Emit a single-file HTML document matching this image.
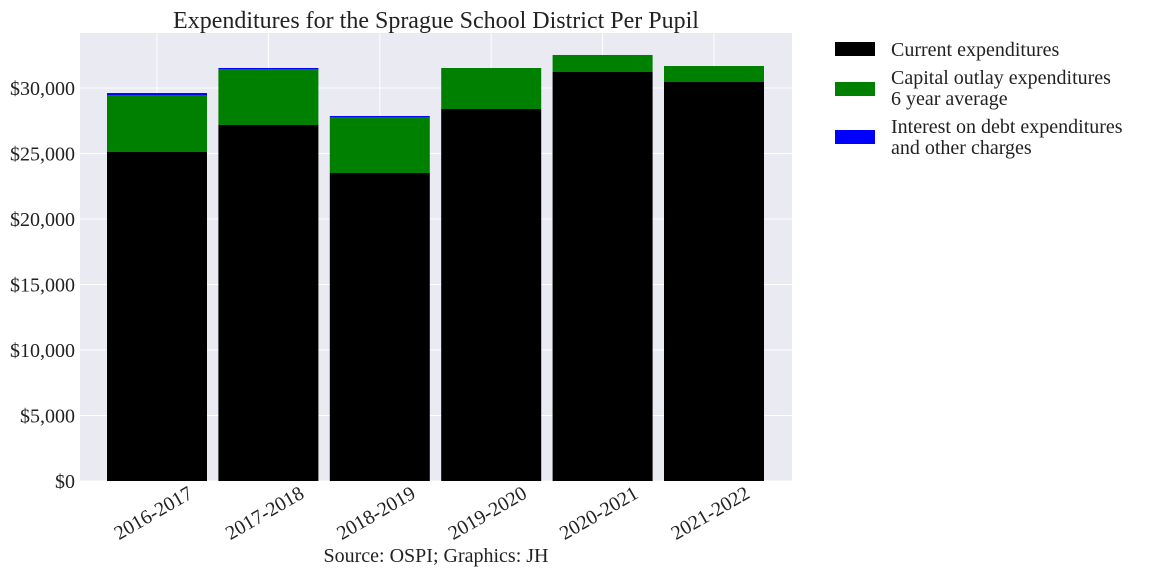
<!DOCTYPE html>
<html><head><meta charset="utf-8"><style>
body{margin:0;background:#fff;}
svg text{font-family:"Liberation Serif",serif;fill:#222;}
</style></head><body>
<svg id="chart" width="1152" height="576" xmlns="http://www.w3.org/2000/svg">
<rect x="80" y="33" width="712" height="448" fill="#eaeaf2"/>
<g id="grid"></g><g id="bars"></g><g id="axes"></g>
<text x="436" y="28" font-size="24" text-anchor="middle">Expenditures for the Sprague School District Per Pupil</text>
<text x="436" y="562" font-size="20" text-anchor="middle">Source: OSPI; Graphics: JH</text>
<g>
<rect x="835" y="42" width="40" height="14" fill="#000"/>
<text x="891" y="56" font-size="20">Current expenditures</text>
<rect x="835" y="82" width="40" height="14" fill="#008000"/>
<text x="891" y="84" font-size="20"><tspan x="891">Capital outlay expenditures</tspan><tspan x="891" dy="21">6 year average</tspan></text>
<rect x="835" y="130" width="40" height="14" fill="#0000ff"/>
<text x="891" y="133" font-size="20"><tspan x="891">Interest on debt expenditures</tspan><tspan x="891" dy="21">and other charges</tspan></text>
</g>
</svg>
<script>
const categories=["2016-2017","2017-2018","2018-2019","2019-2020","2020-2021","2021-2022"];
const current=[25115,27176,23511,28397,31221,30458];
const capital=[4350,4250,4275,3130,1300,1220];
const interest=[150,100,75,0,0,0];
const yTicks=[0,5000,10000,15000,20000,25000,30000];
const yTickLabels=["$0","$5,000","$10,000","$15,000","$20,000","$25,000","$30,000"];
const NS="http://www.w3.org/2000/svg";
const y=v=>481-v*0.0131;
const xc=i=>157+i*111.4;
const bw=100;
function mk(tag,attrs,parent){const e=document.createElementNS(NS,tag);for(const k in attrs)e.setAttribute(k,attrs[k]);parent.appendChild(e);return e;}
const grid=document.getElementById('grid'),bars=document.getElementById('bars'),axes=document.getElementById('axes');
yTicks.forEach((t,i)=>{
 const l=mk('line',{x1:80,x2:792,y1:y(t),y2:y(t),stroke:'#fff','stroke-width':1},grid);
 
 
 const tx=mk('text',{x:75,y:y(t)+7,'font-size':20,'text-anchor':'end'},axes);
 tx.textContent=yTickLabels[i];
 
 
});
categories.forEach((c,i)=>{
 const l=mk('line',{x1:xc(i),x2:xc(i),y1:33,y2:481,stroke:'#fff','stroke-width':1},grid);
 
 
 const x0=xc(i)-bw/2;
 const b1=mk('rect',{x:x0,y:y(current[i]),width:bw,height:y(0)-y(current[i]),fill:'#000'},bars);
 
 
 const t2=current[i]+capital[i];
 const b2=mk('rect',{x:x0,y:y(t2),width:bw,height:y(current[i])-y(t2),fill:'#008000'},bars);
 
 
 const t3=t2+interest[i];
 const b3=mk('rect',{x:x0,y:y(t3),width:bw,height:y(t2)-y(t3),fill:'#0000ff'},bars);
 
 
 const tx=mk('text',{x:xc(i)+37,y:497,'font-size':20,'text-anchor':'end',transform:`rotate(-30 ${xc(i)+37} 497)`},axes);
 tx.textContent=c;
 
 
});
</script>
</body></html>
